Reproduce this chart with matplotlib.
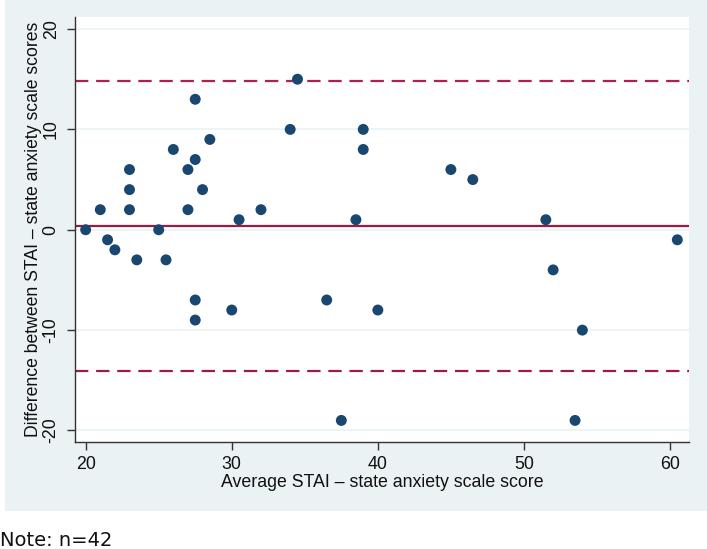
import matplotlib
matplotlib.use("Agg")
import matplotlib.pyplot as plt
from matplotlib.patches import Rectangle

plt.rcParams["axes.unicode_minus"] = False

# Data
avg_score = [20, 21, 21.5, 22, 23, 23, 23, 23.5, 25, 25.5, 26, 27, 27, 27.5, 27.5,
             28, 28.5, 30.5, 32, 34, 34.5, 39, 39, 38.5, 45, 46.5, 51.5, 60.5, 52,
             27.5, 27.5, 30, 36.5, 37.5, 40, 54, 53.5]
diff_score = [0, 2, -1, -2, 6, 4, 2, -3, 0, -3, 8, 6, 2, 13, 7,
              4, 9, 1, 2, 10, 15, 10, 8, 1, 6, 5, 1, -1, -4,
              -7, -9, -8, -7, -19, -8, -10, -19]
mean_diff = 0.38
upper_loa = 14.79
lower_loa = -14.03
x_ticks = [20, 30, 40, 50, 60]
y_ticks = [-20, -10, 0, 10, 20]

W, H = 707, 549
fig = plt.figure(figsize=(W / 100, H / 100), dpi=100)
fig.patch.set_facecolor("white")

# Stata-like background panel
fig.patches.append(Rectangle((5 / W, 1 - 511 / H), (707 - 5) / W, 511 / H,
                             transform=fig.transFigure, facecolor="#EAF2F3",
                             edgecolor="none", zorder=-5))

ax = fig.add_axes([75 / W, 1 - 442 / H, (689 - 75) / W, (442 - 17) / H])
ax.set_zorder(1)
ax.set_facecolor("white")
ax.set_xlim(19.27, 61.3)
ax.set_ylim(-21.15, 21.2)

for yv in y_ticks:
    ax.axhline(yv, color="#EAF2F3", lw=1.2, zorder=1)

ax.axhline(mean_diff, color="#9B1B42", lw=1.6, zorder=2)
ax.axhline(upper_loa, color="#B0204F", lw=1.6, ls=(0, (6, 3.5)), zorder=2)
ax.axhline(lower_loa, color="#9B1B42", lw=1.6, ls=(0, (6, 3.5)), zorder=2)

ax.scatter(avg_score, diff_score, s=62, color="#1A476F", edgecolors="none", zorder=3)

for side in ["top", "right"]:
    ax.spines[side].set_visible(False)
for side in ["left", "bottom"]:
    ax.spines[side].set_color("#333333")
    ax.spines[side].set_linewidth(1.0)

ax.set_xticks(x_ticks)
ax.set_yticks(y_ticks)
ax.tick_params(direction="out", length=6, width=1, color="#333333",
               labelsize=12.8, labelcolor="#111111")
ax.tick_params(axis="x", pad=4)
ax.tick_params(axis="y", pad=5)
for lab in ax.get_yticklabels():
    lab.set_rotation(90)
    lab.set_va("center")
    lab.set_fontfamily("Liberation Sans")
for lab in ax.get_xticklabels():
    lab.set_fontfamily("Liberation Sans")

ax.set_xlabel("Average STAI \u2013 state anxiety scale score", fontsize=12.8,
              family="Liberation Sans", color="#111111", labelpad=1)
ax.set_ylabel("Difference between STAI \u2013 state anxiety scale scores", fontsize=12.7,
              family="Liberation Sans", color="#111111")
ax.yaxis.set_label_coords((42 - 75) / 614, 0.5)

fig.text(0 / W, 1 - 546 / H, "Note: n=42", fontsize=14, family="DejaVu Sans",
         color="#111111", ha="left", va="baseline")

fig.savefig("out.png", dpi=100)
